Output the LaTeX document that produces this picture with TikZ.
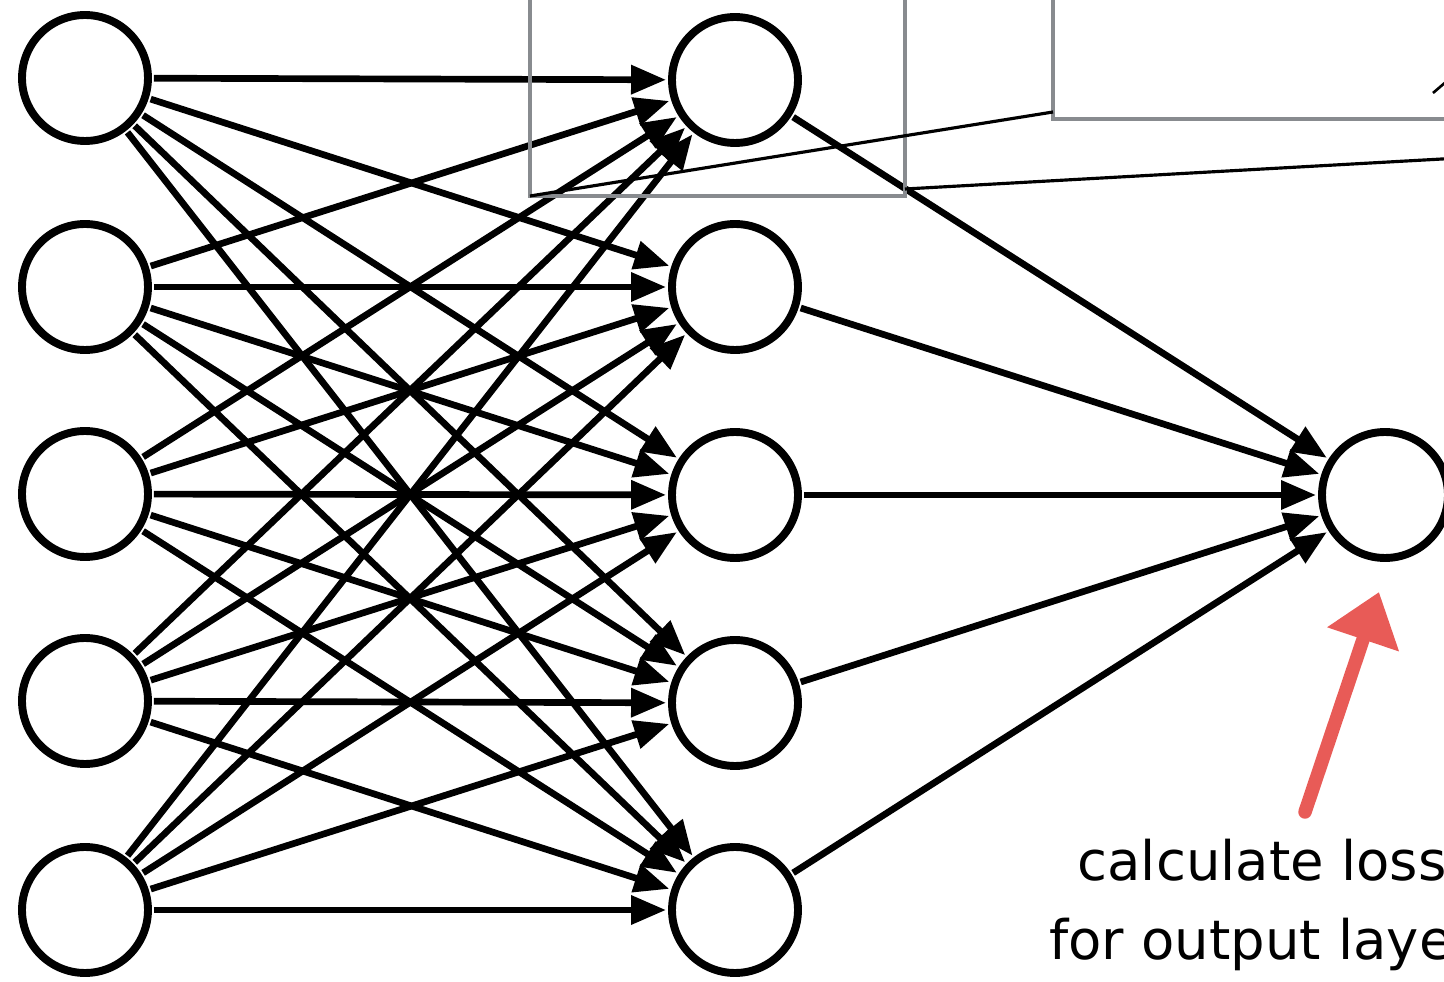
\documentclass[tikz,border=0pt]{standalone}
\usepackage{fontspec}
\setmainfont{DejaVu Sans}
\usetikzlibrary{arrows.meta, positioning}

\definecolor{zoomgray}{HTML}{888B8F}
\definecolor{notered}{HTML}{E85B57}

\begin{document}
\begin{tikzpicture}[
    x=0.02cm, y=-0.02cm,
    neuron/.style={circle, draw=black, fill=white, line width=4.5pt, minimum size=2.52cm, inner sep=0pt, outer sep=0.12cm},
    edge/.style={draw=black, line width=3.8pt, -{Triangle[length=0.7cm, width=0.56cm]}},
    zoombox/.style={draw=zoomgray, line width=1.9pt},
    zoomline/.style={draw=black, line width=1.8pt},
    pointer/.style={draw=notered, line width=0.27cm, line cap=round, -{Triangle[length=1cm, width=1.45cm]}},
    note/.style={font=\fontsize{31}{45.5}\selectfont, align=center}
]
\useasboundingbox (0,0) rectangle (1444,982);
\clip (0,0) rectangle (1444,982);

% --- Input layer ---
\foreach \i/\y in {1/78, 2/287, 3/494, 4/701, 5/910}
    \node[neuron] (i\i) at (85,\y) {};

% --- Hidden layer ---
\foreach \i/\y in {1/80, 2/287, 3/495, 4/703, 5/910}
    \node[neuron] (h\i) at (735,\y) {};

% --- Output layer ---
\node[neuron] (o) at (1385,495) {};

% --- Fully connected edges ---
\foreach \a in {1,...,5}
    \foreach \b in {1,...,5}
        \draw[edge] (i\a) -- (h\b);
\foreach \b in {1,...,5}
    \draw[edge] (h\b) -- (o);

% --- Zoom callout ---
\coordinate (zbl) at (530,196);
\coordinate (zbr) at (905,189);
\coordinate (zcl) at (1053,112);
\coordinate (zcr) at (1460,158);
\draw[zoombox] (530,-10) rectangle (905,196);
\draw[zoombox] (1053,-10) rectangle (1460,119);
\draw[zoomline] (zbl) -- (zcl);
\draw[zoomline] (zbr) -- (zcr);
\draw[line width=1.5pt] (1433,93) -- (1447,81);

% --- Loss note ---
\coordinate (ptail) at (1305,812);
\coordinate (ptip) at (1379,592);
\draw[pointer] (ptail) -- (ptip);
\node[note] (lossnote) at (1262,905) {calculate loss\\for output layer};

\end{tikzpicture}
\end{document}
